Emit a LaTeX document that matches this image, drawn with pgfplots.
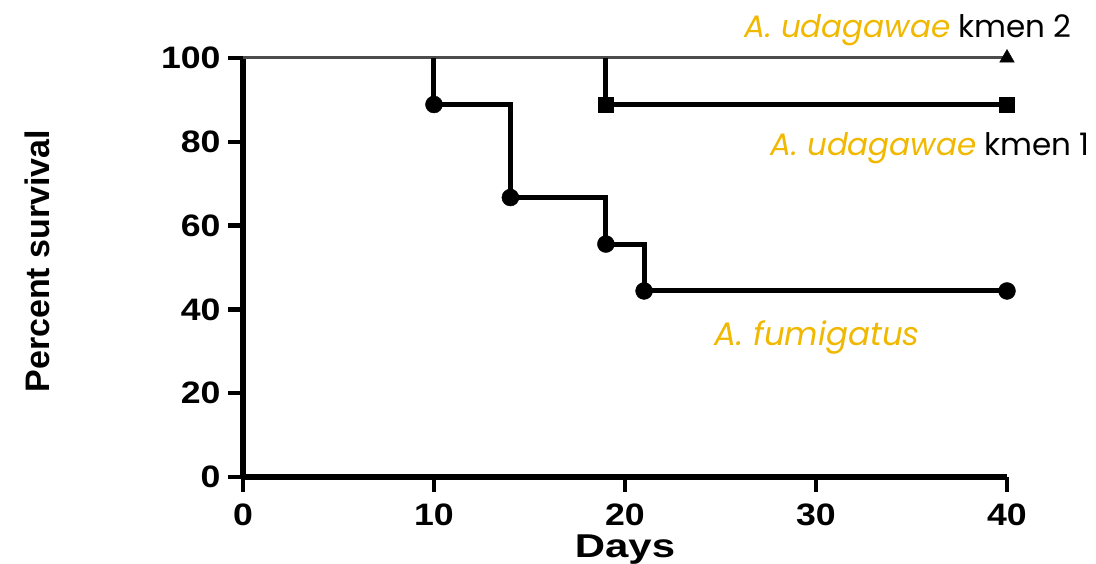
\documentclass[border=0pt]{standalone}
\usepackage{pgfplots}
\pgfplotsset{compat=1.18}
\usepackage{fontspec}
\setmainfont{Liberation Sans}
\newfontfamily\pop{Poppins}
\definecolor{gold}{RGB}{240,184,0}
\begin{document}
\begin{tikzpicture}[x=1pt,y=1pt]
\useasboundingbox (-243,-87) rectangle (853,477);
\begin{axis}[
  at={(0,0)}, anchor=south west,
  scale only axis, width=764pt, height=419pt,
  xmin=0, xmax=40, ymin=0, ymax=100,
  axis x line*=bottom, axis y line*=left,
  axis line style={line width=5.5pt, -},
  xtick={0,10,20,30,40}, ytick={0,20,40,60,80,100},
  tick align=outside, major tick length=15pt,
  every tick/.style={black, line width=4.5pt},
  /pgf/number format/assume math mode=true,
  tick label style={font=\fontsize{31}{36}\selectfont\bfseries, xscale=1.15},
  xticklabel style={yshift=-8pt},
  yticklabel style={xshift=-3pt},
  xlabel={Days}, ylabel={Percent survival},
  every axis x label/.style={at={(axis description cs:0.5,-0.191)}, anchor=base, xscale=1.27, font=\fontsize{33}{38}\selectfont\bfseries},
  every axis y label/.style={at={(axis description cs:-0.253,0.515)}, anchor=base, rotate=90, font=\fontsize{34}{40}\selectfont\bfseries},
  clip=false,
]
% kmen 2
\addplot[draw=black!70, line width=3pt] coordinates {(0,100) (40,100)};
\addplot[only marks, mark=triangle*, mark size=8.5pt, black] coordinates {(40,100)};
% kmen 1
\addplot[black, line width=5pt] coordinates {(19,100) (19,88.9) (40,88.9)};
\addplot[only marks, mark=square*, mark size=7.5pt, black] coordinates {(19,88.9) (40,88.9)};
% fumigatus
\addplot[black, line width=5pt] coordinates {(10,100) (10,88.9) (14,88.9) (14,66.7) (19,66.7) (19,55.6) (21,55.6) (21,44.4) (40,44.4)};
\addplot[only marks, mark=*, mark size=8.5pt, black] coordinates {(10,88.9) (14,66.7) (19,55.6) (21,44.4) (40,44.4)};
\node[anchor=base east, inner sep=0pt, font=\pop\fontsize{31}{36}\selectfont] at (axis cs:43.4,105) {\textcolor{gold}{\itshape A. udagawae} kmen 2};
\node[anchor=base east, inner sep=0pt, font=\pop\fontsize{31}{36}\selectfont] at (axis cs:44.35,76.8) {\textcolor{gold}{\itshape A. udagawae} kmen 1};
\node[anchor=base west, inner sep=0pt, font=\pop\fontsize{32.5}{38}\selectfont] at (axis cs:24.7,31.5) {\textcolor{gold}{\itshape A. fumigatus}};
\end{axis}
\end{tikzpicture}
\end{document}
